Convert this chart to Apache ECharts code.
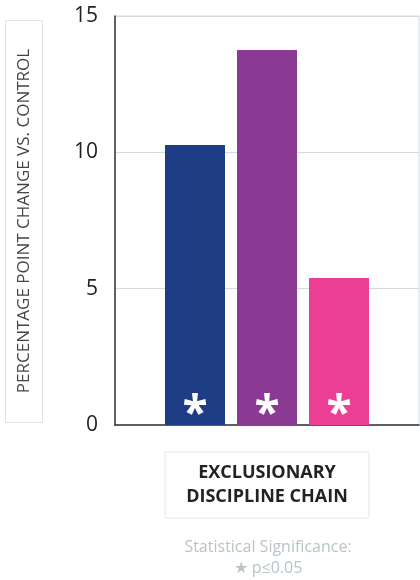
<!DOCTYPE html>
<html><head><meta charset="utf-8">
<script src="https://cdn.jsdelivr.net/npm/echarts@6/dist/echarts.min.js"></script>
<style>html,body{margin:0;padding:0;background:#fff}#c{width:420px;height:580px}</style>
</head><body><div id="c"></div>
<script>
const categories = ['EXCLUSIONARY\nDISCIPLINE CHAIN'];
const seriesNames = ['Series 1', 'Series 2', 'Series 3'];
const seriesValues = [[10.27], [13.75], [5.39]];
const seriesColors = ['#1e3d84', '#8a3a92', '#ea3f95'];
const significance = ['*', '*', '*'];
const yTicks = [0, 5, 10, 15];
const yAxisTitle = 'PERCENTAGE POINT CHANGE VS. CONTROL';
const footnote = ['Statistical Significance:', '\u2605 p\u22640.05'];

const FONT = '"Open Sans", sans-serif';
const chart = echarts.init(document.getElementById('c'), null, {renderer: 'canvas'});
chart.setOption({
  animation: false,
  textStyle: {fontFamily: FONT},
  grid: {left: 115, right: 1, top: 16, bottom: 155, show: true, borderColor: '#d3dadd', borderWidth: 1},
  xAxis: {
    type: 'category', data: categories,
    axisLine: {lineStyle: {color: '#333', width: 1.5}},
    axisTick: {show: false},
    axisLabel: {
      margin: 27, color: '#222', fontSize: 18, fontWeight: 'bold', fontFamily: FONT,
      lineHeight: 24, align: 'center',
      borderColor: '#e3e8ea', borderWidth: 1, padding: [9, 21, 9, 21]
    }
  },
  yAxis: {
    type: 'value', min: yTicks[0], max: yTicks[yTicks.length - 1], interval: 5,
    axisLine: {show: true, lineStyle: {color: '#333', width: 1.5}},
    axisTick: {show: false},
    splitLine: {lineStyle: {color: '#d3dadd', width: 1}},
    axisLabel: {margin: 17, color: '#222', fontSize: 21, fontFamily: FONT}
  },
  series: seriesNames.map((n, i) => ({
    name: n, type: 'bar', data: seriesValues[i], barWidth: 60, barGap: '20%',
    itemStyle: {color: seriesColors[i]},
    label: {
      show: true, position: 'insideBottom', distance: -14,
      formatter: () => significance[i],
      color: '#fff', fontSize: 46, fontWeight: 'bold', fontFamily: FONT
    }
  })),
  graphic: [
    {type: 'rect', shape: {x: 5.5, y: 20.5, width: 37, height: 402},
     style: {fill: 'none', stroke: '#dde3e6', lineWidth: 1}},
    {type: 'text', x: 24, y: 221, rotation: Math.PI / 2,
     style: {text: yAxisTitle, fill: '#444', font: '17px ' + FONT, align: 'center', verticalAlign: 'middle'}},
    {type: 'text', x: 268, y: 547,
     style: {text: footnote[0], fill: '#b9c3c8', font: '16px ' + FONT, align: 'center', verticalAlign: 'middle'}},
    {type: 'text', x: 268, y: 568,
     style: {text: footnote[1], fill: '#b9c3c8', font: '16px ' + FONT, align: 'center', verticalAlign: 'middle'}}
  ]
});
</script></body></html>
